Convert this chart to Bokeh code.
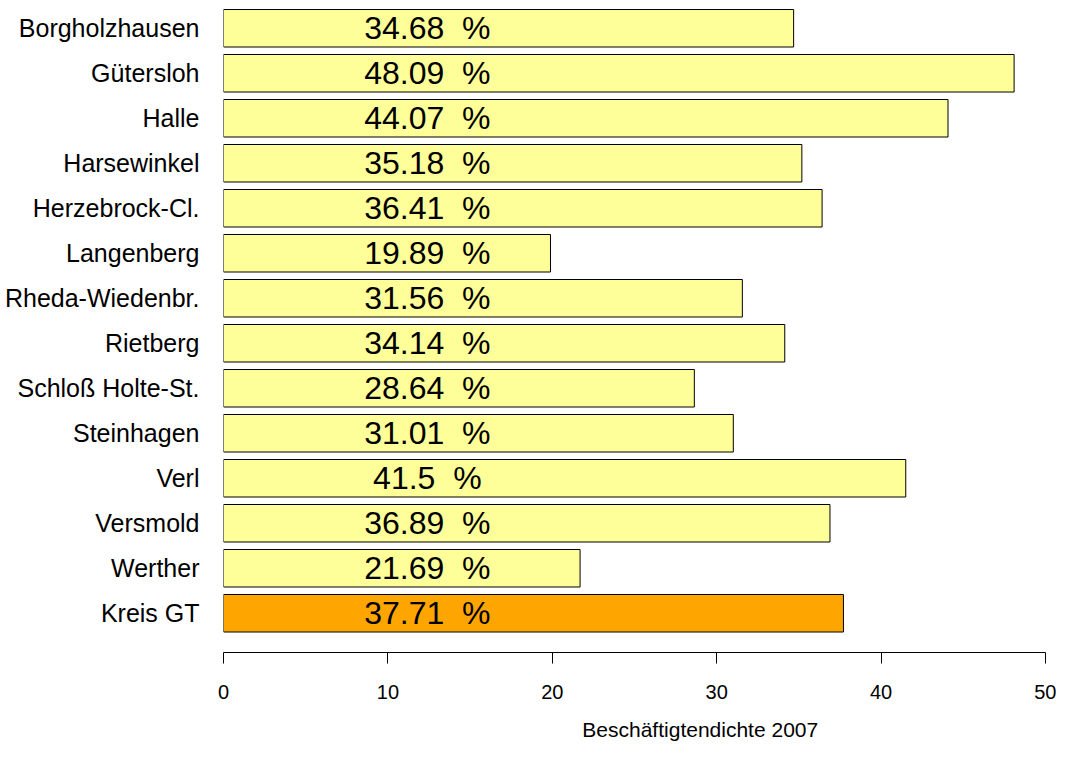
from bokeh.plotting import figure
from bokeh.models import FixedTicker, Range1d, LinearAxis, ColumnDataSource
from bokeh.core.properties import value
from bokeh.embed import file_html
from bokeh.resources import INLINE

categories = ["Borgholzhausen", "Gütersloh", "Halle", "Harsewinkel", "Herzebrock-Cl.",
              "Langenberg", "Rheda-Wiedenbr.", "Rietberg", "Schloß Holte-St.",
              "Steinhagen", "Verl", "Versmold", "Werther", "Kreis GT"]
values = [34.68, 48.09, 44.07, 35.18, 36.41, 19.89, 31.56, 34.14, 28.64,
          31.01, 41.5, 36.89, 21.69, 37.71]
x_ticks = [0, 10, 20, 30, 40, 50]
x_title = "Beschäftigtendichte 2007"
x_title_at = 29.0

YELLOW = "#FFFF99"
ORANGE = "#FFA500"
FONT = "Liberation Sans"

n = len(categories)
ypos = [n - 1 - i for i in range(n)]
colors = [ORANGE if c == "Kreis GT" else YELLOW for c in categories]
labels = [f"{v}\u00a0\u00a0%" for v in values]

src = ColumnDataSource(dict(y=ypos, v=values, c=colors, t=labels, cat=categories))

p = figure(width=1056, height=744, output_backend="svg", toolbar_location=None,
           x_range=Range1d(0, 50), y_range=Range1d(-0.8722, 13.6167),
           min_border_left=223, min_border_right=11, min_border_top=0,
           min_border_bottom=92, outline_line_color=None,
           background_fill_color="white", border_fill_color="white")

p.hbar(y="y", left=0, right="v", height=1 / 1.2, fill_color="c",
       line_color="black", line_width=1, source=src)
p.text(x=12.4, y="y", text="t", text_align="center", text_baseline="middle",
       text_font=value(FONT), text_font_size="32px", text_color="black", source=src)

p.xgrid.visible = False
p.ygrid.visible = False

xa = p.xaxis[0]
xa.ticker = FixedTicker(ticks=x_ticks)
xa.minor_tick_line_color = None
xa.major_tick_out = 11
xa.major_tick_in = 0
xa.axis_line_color = "black"
xa.major_tick_line_color = "black"
xa.major_label_text_font = FONT
xa.major_label_text_font_size = "20px"
xa.major_label_text_color = "black"
xa.major_label_standoff = 21

# axis title, placed as the single label of a bare second axis below
ta = LinearAxis(ticker=FixedTicker(ticks=[x_title_at]),
                major_label_overrides={x_title_at: x_title},
                axis_line_color=None, major_tick_line_color=None,
                minor_tick_line_color=None, major_tick_out=0, major_tick_in=0,
                major_label_standoff=16, major_label_text_font=FONT,
                major_label_text_font_size="21px", major_label_text_color="black")
p.add_layout(ta, "below")

ya = p.yaxis[0]
ya.ticker = FixedTicker(ticks=ypos)
ya.major_label_overrides = {y: c for y, c in zip(ypos, categories)}
ya.axis_line_color = None
ya.major_tick_line_color = None
ya.minor_tick_line_color = None
ya.major_tick_out = 0
ya.major_tick_in = 0
ya.major_label_text_font = FONT
ya.major_label_text_font_size = "25px"
ya.major_label_text_color = "black"
ya.major_label_standoff = 24

open("out.html", "w").write(file_html(p, INLINE))
